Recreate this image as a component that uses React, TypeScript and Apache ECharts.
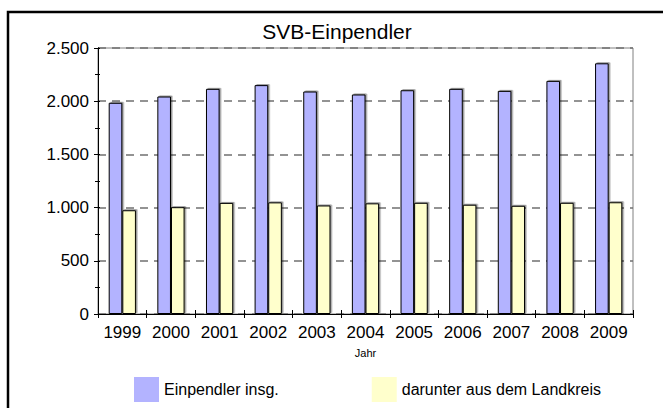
import React, { useEffect, useRef } from "react";
import * as echarts from "echarts";

const years = ["1999", "2000", "2001", "2002", "2003", "2004", "2005", "2006", "2007", "2008", "2009"];
const einpendler = [1985, 2044, 2116, 2151, 2091, 2063, 2103, 2116, 2097, 2191, 2356];
const landkreis = [975, 1004, 1044, 1049, 1020, 1040, 1045, 1027, 1017, 1045, 1050];
const title = "SVB-Einpendler";
const seriesNames = ["Einpendler insg.", "darunter aus dem Landkreis"];
const xName = "Jahr";

const FONT = '"Liberation Sans", Arial, sans-serif';
const fmt = (v: number) => String(v).replace(/\B(?=(\d{3})+(?!\d))/g, ".");

export default function App() {
  const ref = useRef<HTMLDivElement>(null);
  useEffect(() => {
    const chart = echarts.init(ref.current!, null, { renderer: "svg" });
    const yBase = {
      type: "value",
      min: 0,
      max: 2500,
      interval: 500,
      axisLine: { show: true, lineStyle: { color: "#000", width: 1 } },
      minorTick: { show: true, splitNumber: 2, length: 3, lineStyle: { color: "#000" } },
      minorSplitLine: { show: false },
    };
    const xBase = {
      type: "category",
      data: years,
      boundaryGap: true,
      axisLine: { show: true, lineStyle: { color: "#000", width: 1 } },
    };
    const barShadow = {
      borderColor: "#000",
      borderWidth: 1,
      shadowColor: "rgba(0,0,0,0.4)",
      shadowOffsetX: 1.5,
      shadowOffsetY: -1,
      shadowBlur: 0,
    };
    chart.setOption({
      animation: false,
      backgroundColor: "#fff",
      title: {
        text: title,
        left: 337,
        textAlign: "center",
        top: 21,
        padding: 0,
        textStyle: { fontFamily: FONT, fontSize: 21, fontWeight: "normal", color: "#000" },
      },
      graphic: [
        {
          type: "rect",
          shape: { x: 8, y: 12, width: 700, height: 500 },
          style: { fill: "none", stroke: "#000", lineWidth: 2.5 },
          silent: true,
          z: 100,
        },
      ],
      grid: {
        left: 98,
        right: 30,
        top: 48,
        bottom: 94,
        show: true,
        borderColor: "#808080",
        borderWidth: 1,
        backgroundColor: "transparent",
      },
      legend: {
        left: 134,
        top: 377,
        width: 520,
        padding: 0,
        itemWidth: 25,
        itemHeight: 25,
        itemGap: 93,
        icon: "rect",
        data: seriesNames,
        textStyle: { fontFamily: FONT, fontSize: 16, color: "#000" },
        itemStyle: { borderWidth: 0, shadowBlur: 0, shadowOffsetX: 0, shadowOffsetY: 0 },
      },
      xAxis: [
        {
          ...xBase,
          axisTick: { show: true, length: 4, inside: false, lineStyle: { color: "#000" } },
          axisLabel: { interval: 0, margin: 10, fontFamily: FONT, fontSize: 17, color: "#000" },
          name: xName,
          nameLocation: "middle",
          nameGap: 33,
          nameTextStyle: { fontFamily: FONT, fontSize: 11, color: "#000" },
        },
        {
          ...xBase,
          position: "bottom",
          axisTick: { show: true, length: 4, inside: true, lineStyle: { color: "#000" } },
          axisLabel: { show: false },
        },
      ],
      yAxis: [
        {
          ...yBase,
          axisTick: { show: true, length: 4, inside: false, lineStyle: { color: "#000" } },
          axisLabel: { margin: 9, fontFamily: FONT, fontSize: 17, color: "#000", formatter: (v: number) => fmt(v) },
          splitLine: { show: true, lineStyle: { color: "#707070", width: 1.5, type: [8, 6] } },
        },
        {
          ...yBase,
          position: "left",
          axisTick: { show: true, length: 2, inside: true, lineStyle: { color: "#000" } },
          minorTick: { show: true, splitNumber: 2, length: 2, lineStyle: { color: "#000" } },
          axisLabel: { show: false },
          splitLine: { show: false },
        },
      ],
      series: [
        {
          name: seriesNames[0],
          type: "bar",
          data: einpendler,
          barGap: "0%",
          barCategoryGap: "44%",
          itemStyle: { color: "#b3b3ff", ...barShadow },
        },
        {
          name: seriesNames[1],
          type: "bar",
          data: landkreis,
          barGap: "0%",
          barCategoryGap: "44%",
          itemStyle: { color: "#ffffcc", ...barShadow },
        },
      ],
    });
    return () => chart.dispose();
  }, []);
  return <div ref={ref} style={{ position: "absolute", left: 0, top: 0, width: 663, height: 408 }} />;
}
